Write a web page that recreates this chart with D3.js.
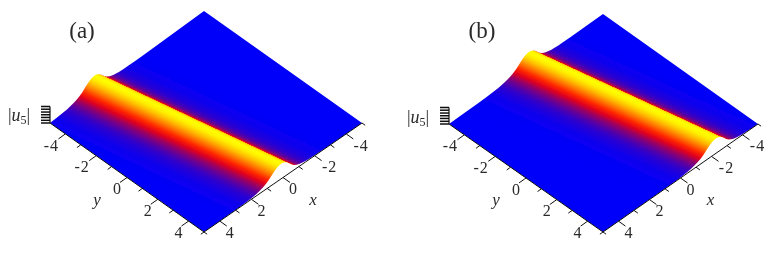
<!DOCTYPE html>
<html>
<head>
<meta charset="utf-8">
<script src="https://cdn.jsdelivr.net/npm/d3@7"></script>
<style>
  html, body { margin: 0; padding: 0; background: #fff; overflow: hidden; }
  text { font-family: "Liberation Serif", serif; fill: #2a2a2a; }
</style>
</head>
<body>
<div id="chart"></div>
<script>
// tick values
const yTicks = [-4, -2, 0, 2, 4];
const yMinor = [-3, -1, 1, 3];
const xTicks = [-4, -2, 0, 2, 4];
const xMinor = [-3, -1, 1, 3];
const zTicks = [0, 0.18, 0.37, 0.55, 0.73, 0.92, 1.1];

// cross section of the ridge
// offset is in x units from the crest, front of the plot is positive
const offsets = [-3.2, -2.7, -2.2, -1.9, -1.6, -1.45, -1.3, -1.12, -0.96, -0.8, -0.64, -0.48, -0.32, -0.16, 0,
  0.2, 0.4, 0.6, 0.8, 1, 1.2, 1.4, 1.6, 1.8, 2, 2.4, 2.8, 3.4, 4];
const heights = [0, 0.006, 0.018, 0.035, 0.06, 0.08, 0.11, 0.16, 0.23, 0.33, 0.48, 0.68, 0.85, 0.96, 1,
  0.96, 0.85, 0.68, 0.49, 0.35, 0.25, 0.18, 0.125, 0.085, 0.06, 0.028, 0.012, 0.003, 0];

// crest position x at y = -5 and y = 5
const crestA = [2.1, 0.1];
const crestB = [-0.2, -2.3];

const width = 773, height = 253;
const liftPx = 15;

const panels = [
  { id: "a", title: "(a)", titleX: 82, titleY: 38, crest: crestA, labelX: 8, labelY: 121,
    left: [50, 123], top: [204, 11], right: [362, 123], bottom: [204, 232] },
  { id: "b", title: "(b)", titleX: 482, titleY: 38, crest: crestB, labelX: 407, labelY: 123,
    left: [449, 124], top: [603, 14], right: [758, 124], bottom: [603, 232] }
];

const color = d3.scaleLinear()
  .domain([0, 0.4, 1])
  .range(["#0000fa", "#ff0000", "#ffff00"]);

const svg = d3.select("#chart").append("svg")
  .attr("width", width)
  .attr("height", height);

const defs = svg.append("defs");

defs.append("filter").attr("id", "soft")
  .attr("x", "-5%").attr("y", "-5%").attr("width", "110%").attr("height", "110%")
  .append("feGaussianBlur").attr("stdDeviation", 0.5);

const xPos = d3.scaleLinear().domain([5, -5]).range([0, 1]);
const yPos = d3.scaleLinear().domain([-5, 5]).range([0, 1]);
const zPos = d3.scaleLinear().domain([0, 1]).range([0, liftPx]);

panels.forEach(p => {
  const g = svg.append("g").attr("filter", "url(#soft)");

  // bilinear between the four corners of the floor
  const project = (x, y, z) => {
    const u = xPos(x), v = yPos(y);
    const a = d3.interpolate(p.left, p.top)(u);
    const b = d3.interpolate(p.bottom, p.right)(u);
    const q = d3.interpolate(a, b)(v);
    return [q[0], q[1] - zPos(z || 0)];
  };
  const crestAt = d3.scaleLinear().domain([-5, 5]).range(p.crest);
  const clampX = x => Math.max(-5, Math.min(5, x));
  const at = (k, y) => project(clampX(crestAt(y) + offsets[k]), y, heights[k]);

  // outline of the surface: the two cut ends of the ridge joined through the corners
  const idx = d3.range(offsets.length);
  const outline = [project(5, -5)]
    .concat(idx.slice().reverse().map(k => at(k, -5)))
    .concat([project(-5, -5), project(-5, 5)])
    .concat(idx.map(k => at(k, 5)))
    .concat([project(5, 5)]);

  // one gradient square to the ridge, with a stop at every station
  const a1 = at(14, -5), a2 = at(14, 5);
  const ex = a2[0] - a1[0], ey = a2[1] - a1[1], len = Math.hypot(ex, ey);
  const nx = -ey / len, ny = ex / len;
  const along = q => (q[0] - a1[0]) * nx + (q[1] - a1[1]) * ny;
  const mids = idx.map(k => {
    const s = project(crestAt(-5) + offsets[k], -5, heights[k]);
    const e = project(crestAt(5) + offsets[k], 5, heights[k]);
    return along([(s[0] + e[0]) / 2, (s[1] + e[1]) / 2]);
  });
  const lo = d3.min(mids), hi = d3.max(mids);
  const grad = defs.append("linearGradient").attr("id", "surface-" + p.id)
    .attr("gradientUnits", "userSpaceOnUse")
    .attr("x1", a1[0] + nx * lo).attr("y1", a1[1] + ny * lo)
    .attr("x2", a1[0] + nx * hi).attr("y2", a1[1] + ny * hi);
  idx.forEach(k => {
    grad.append("stop")
      .attr("offset", (mids[k] - lo) / (hi - lo))
      .attr("stop-color", color(heights[k]));
  });

  g.append("path")
    .attr("d", d3.line()(outline) + "Z")
    .attr("fill", `url(#surface-${p.id})`);

  const axisColor = "#111";
  const tick = (from, to, w) => g.append("line")
    .attr("x1", from[0]).attr("y1", from[1])
    .attr("x2", to[0]).attr("y2", to[1])
    .attr("stroke", axisColor).attr("stroke-width", w);

  // y axis along the lower left edge, x axis along the lower right edge
  tick(project(5, -5), project(5, 5), 1);
  tick(project(5, 5), project(-5, 5), 1);

  yTicks.forEach(t => tick(project(5, t), project(5.45, t), 1));
  yMinor.forEach(t => tick(project(5, t), project(5.25, t), 1));
  xTicks.forEach(t => tick(project(t, 5), project(t, 5.45), 1));
  xMinor.forEach(t => tick(project(t, 5), project(t, 5.25), 1));
  // little tails past the corners
  tick(project(5, 5), project(5.2, 5), 1);
  tick(project(5, 5), project(5, 5.2), 1);
  tick(project(-5, 5), project(-5, 5.2), 1);

  yTicks.forEach(t => {
    const q = project(5, t);
    g.append("text")
      .attr("x", q[0] - 10 - (t < 0 ? 4 : 0))
      .attr("y", q[1] + 11)
      .attr("dy", "0.35em")
      .attr("text-anchor", "middle")
      .attr("font-size", 16)
      .attr("letter-spacing", t < 0 ? 1 : 0)
      .text(t);
  });
  xTicks.forEach(t => {
    const q = project(t, 5);
    g.append("text")
      .attr("x", q[0] + 10 + (t < 0 ? 5 : 0))
      .attr("y", q[1] + 11)
      .attr("dy", "0.35em")
      .attr("text-anchor", "middle")
      .attr("font-size", 16)
      .attr("letter-spacing", t < 0 ? 1 : 0)
      .text(t);
  });

  // height axis is only a comb of ticks at the left corner
  const base = project(5, -5);
  tick(base, [base[0], base[1] - zPos(1.1)], 1.2);
  zTicks.forEach(t => tick([base[0], base[1] - zPos(t)], [base[0] - 9, base[1] - zPos(t)], 1.5));

  // axis names
  const yName = project(5, 0);
  g.append("text").attr("x", yName[0] - 30).attr("y", yName[1] + 27)
    .attr("font-size", 17).attr("font-style", "italic").attr("text-anchor", "middle").text("y");
  const xName = project(0, 5);
  g.append("text").attr("x", xName[0] + 30).attr("y", xName[1] + 27)
    .attr("font-size", 17).attr("font-style", "italic").attr("text-anchor", "middle").text("x");

  const label = g.append("text").attr("x", p.labelX).attr("y", p.labelY).attr("font-size", 18);
  label.append("tspan").text("|");
  label.append("tspan").attr("font-style", "italic").text("u");
  label.append("tspan").attr("font-size", 12).attr("dy", 3).text("5");
  label.append("tspan").attr("dy", -3).text("|");

  g.append("text")
    .attr("x", p.titleX).attr("y", p.titleY)
    .attr("text-anchor", "middle")
    .attr("font-size", 23)
    .text(p.title);
});
</script>
</body>
</html>
